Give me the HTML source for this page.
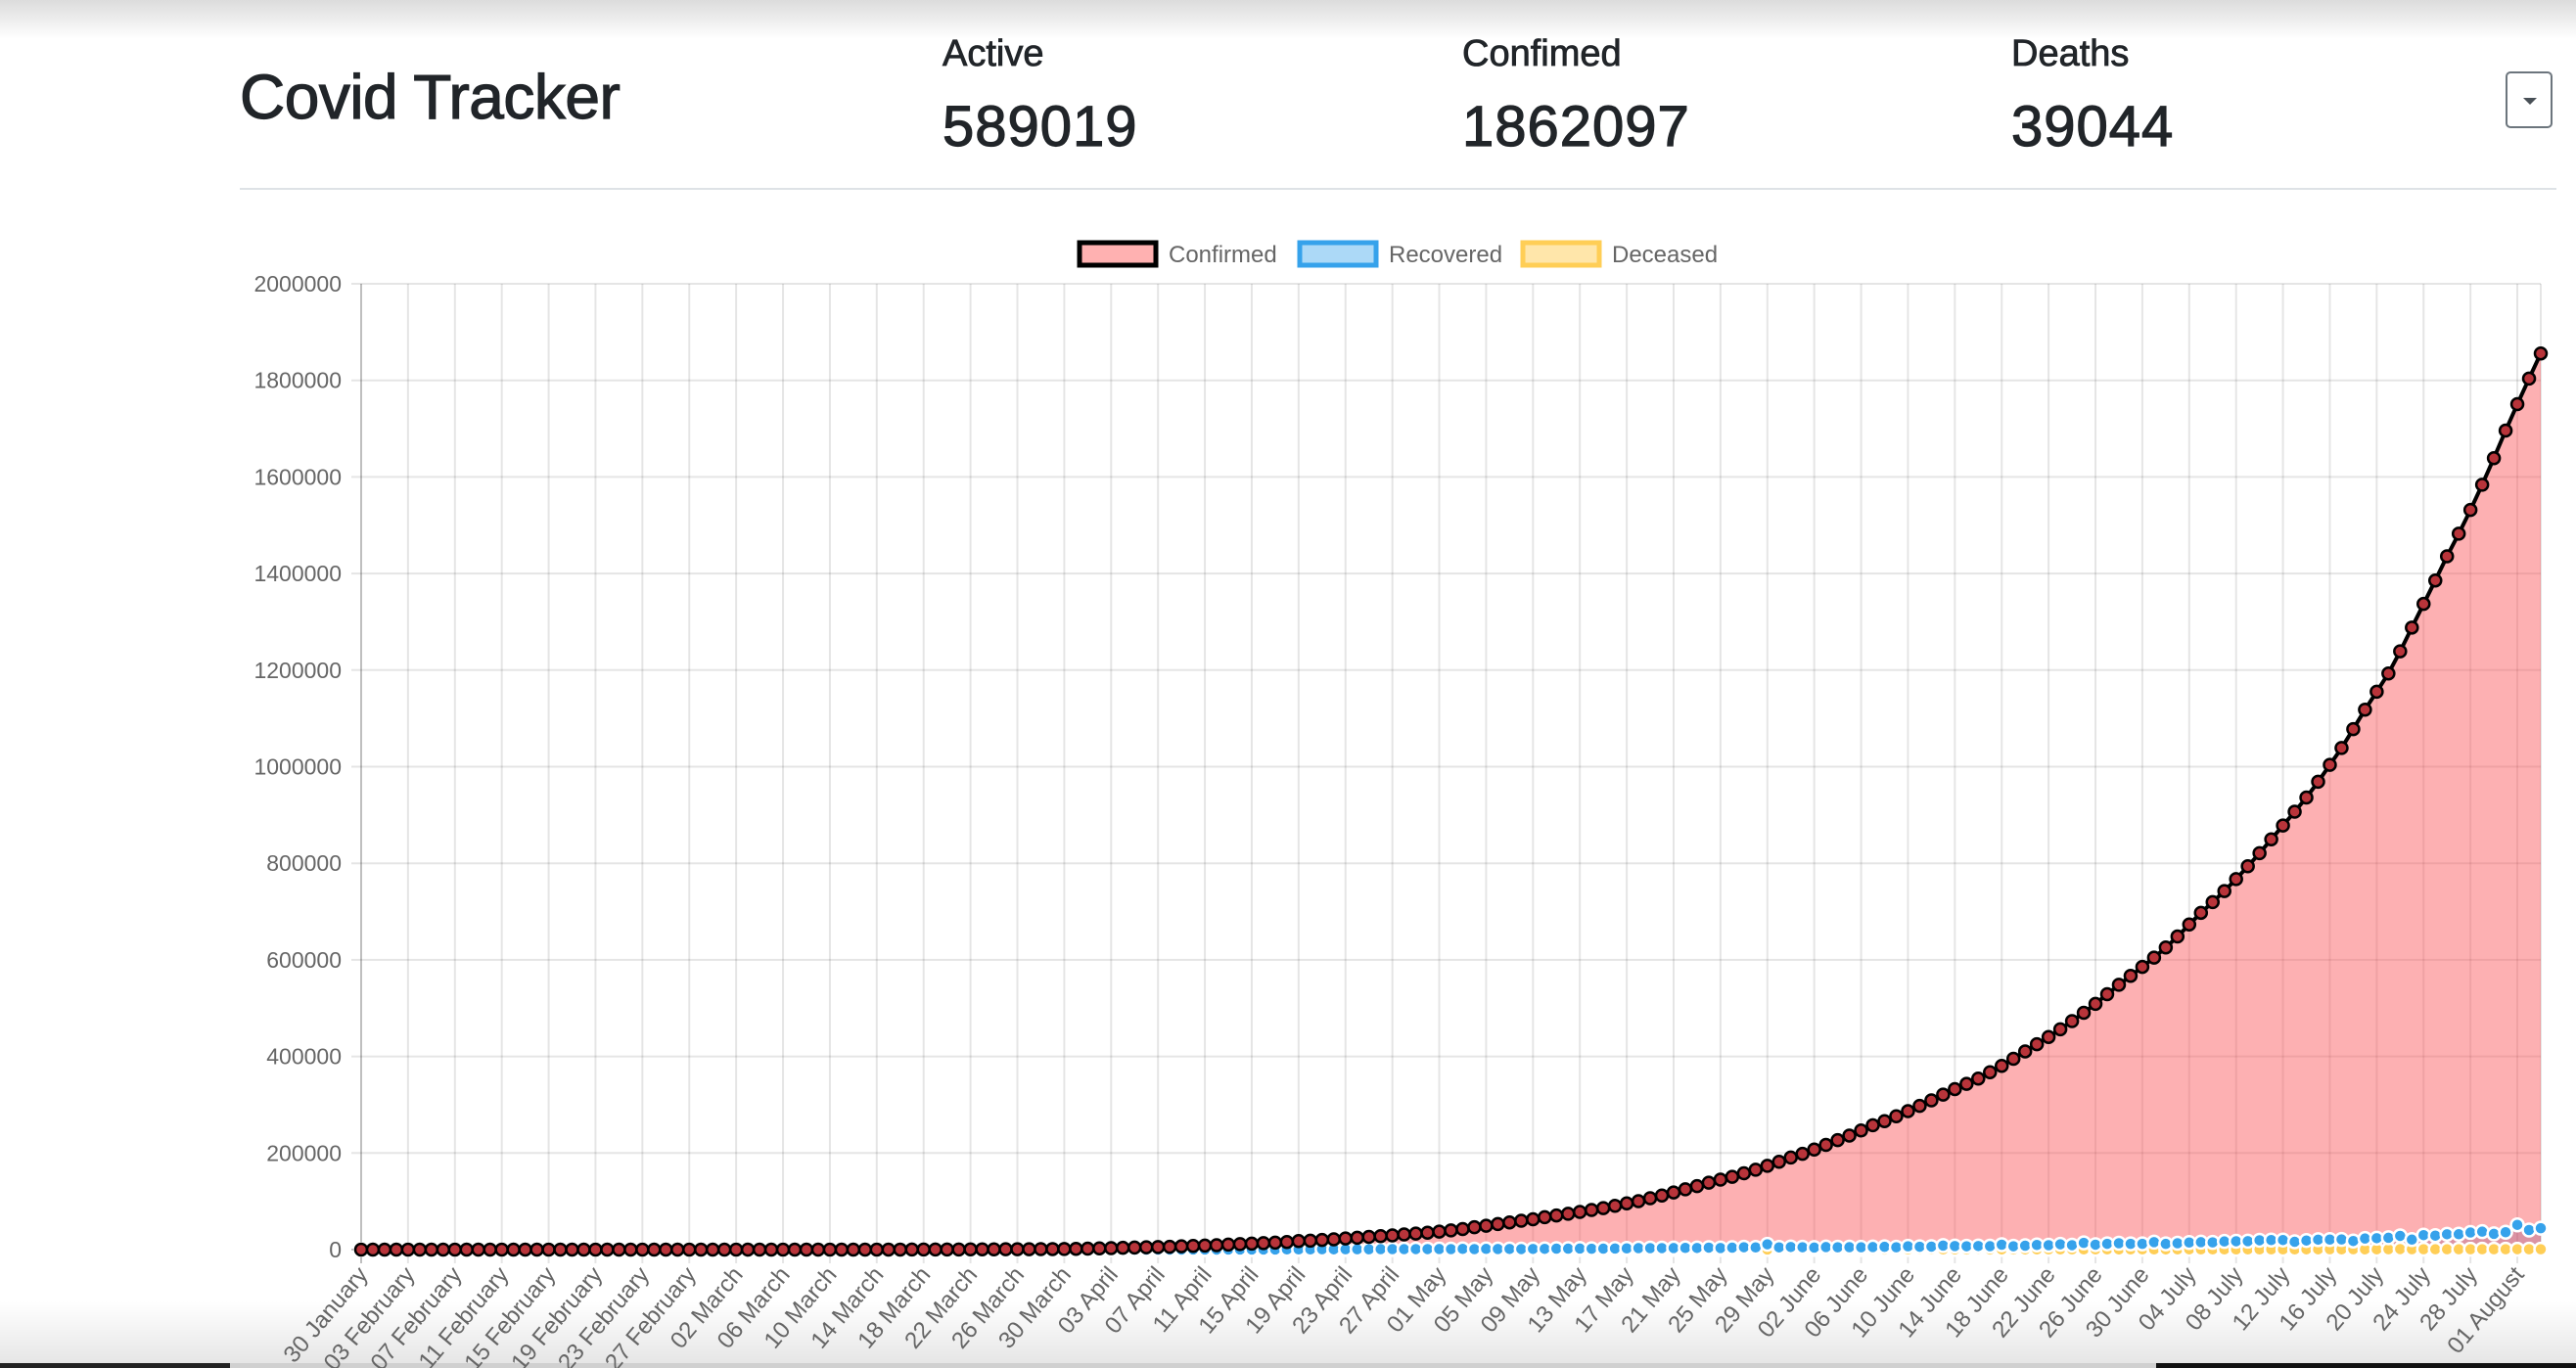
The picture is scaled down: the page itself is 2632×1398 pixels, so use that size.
<!DOCTYPE html>
<html><head><meta charset="utf-8">
<style>
html,body{margin:0;padding:0;background:#fff;width:2632px;height:1398px;overflow:hidden;font-family:"Liberation Sans",sans-serif;color:#212529;position:relative}
.topshade{position:absolute;left:0;top:0;width:2632px;height:40px;background:linear-gradient(#dcdcdc,#fff)}
.botshade{position:absolute;left:0;top:1330px;width:2632px;height:68px;background:linear-gradient(#fff,#e4e4e4)}
.botline{position:absolute;top:1393px;height:5px}
.title{position:absolute;left:245px;top:62px;font-size:64px;font-weight:500;letter-spacing:-0.5px;-webkit-text-stroke:1.2px #212529}
.lbl{position:absolute;top:34px;font-size:38px;-webkit-text-stroke:0.8px #212529}
.num{position:absolute;top:96px;font-size:58px;-webkit-text-stroke:1.2px #212529;letter-spacing:1px}
.dd{position:absolute;left:2560px;top:73px;width:48px;height:58px;border:2px solid #6c757d;border-radius:5px;box-sizing:border-box}
.dd:after{content:"";position:absolute;left:16px;top:25px;border-left:7px solid transparent;border-right:7px solid transparent;border-top:7px solid #495057}
.hr{position:absolute;left:245px;top:192px;width:2367px;height:2px;background:#dee2e6}
svg{position:absolute;left:0;top:0}
</style></head><body>
<div class="topshade"></div>
<div class="botshade"></div>
<div class="botline" style="left:0;width:235px;background:#222"></div>
<div class="botline" style="left:235px;width:1968px;background:#d0d0d0"></div>
<div class="botline" style="left:2203px;width:429px;background:#111"></div>
<div class="title">Covid Tracker</div>
<div class="lbl" style="left:963px">Active</div>
<div class="num" style="left:963px">589019</div>
<div class="lbl" style="left:1494px">Confimed</div>
<div class="num" style="left:1494px">1862097</div>
<div class="lbl" style="left:2055px">Deaths</div>
<div class="num" style="left:2055px">39044</div>
<div class="dd"></div>
<div class="hr"></div>
<svg id="chart" width="2632" height="1398"></svg>
<script>
const yTicks=[0,200000,400000,600000,800000,1000000,1200000,1400000,1600000,1800000,2000000];
const months=["January","February","March","April","May","June","July","August"];
const startMonth=[0,30];
const confirmed=[1,1,1,2,3,3,3,3,3,3,3,3,3,3,3,3,3,3,3,3,3,3,3,3,3,3,3,3,3,3,3,3,
5,6,28,30,31,34,39,48,63,71,81,91,102,112,126,146,171,198,256,334,403,497,571,657,730,883,1019,1139,1326,1635,
2059,2545,3105,3684,4293,4778,5351,5916,6725,7598,8446,9205,10453,11487,12322,13430,14352,15722,17615,18539,20080,21370,23077,24530,26283,27890,29451,31324,33062,34863,
37257,39699,42505,46437,49400,53005,56351,59695,62808,67161,70768,74292,78055,81997,85784,90648,95698,100328,106475,112028,118226,124794,131423,138536,144950,150793,158086,165386,173491,181827,190609,
198370,207191,216824,226713,236184,246622,257486,265928,276146,286605,297535,308993,320922,332424,343091,354065,367264,380532,395048,410451,425282,440215,456183,473105,490401,508953,528859,548318,566840,585481,
604641,625544,648315,673165,697413,719665,742417,767296,793802,820916,849553,878254,906752,936181,968876,1003832,1038716,1077781,1118043,1155191,1192915,1238798,1288108,1337024,1385635,1435616,1482503,1531669,1583792,1638870,1695988,
1750723,1803695,1855745];
const recovered=[0,0,0,0,0,0,0,0,0,0,0,0,0,0,0,0,3,0,0,0,0,0,0,0,0,0,0,0,0,0,0,0,
0,0,0,0,0,0,0,1,0,0,6,0,0,3,1,1,1,0,3,1,4,2,13,5,6,19,26,16,0,49,
18,46,56,42,74,51,101,77,88,136,182,103,198,228,168,285,264,397,455,491,726,586,709,637,714,890,1007,892,1074,1134,
1180,1057,1500,1020,1456,1273,1329,1115,1326,1606,2000,1930,2228,1753,1930,2234,2538,3025,3080,3115,3234,3500,3414,4128,3276,3936,4928,4550,11000,4610,5400,
4900,4190,5200,4800,5000,4700,5220,5760,4780,6800,5900,6150,8400,7390,6920,7420,7000,10100,6900,8000,9650,9120,10990,9230,13940,10240,12000,13150,11880,11880,
15440,11840,13170,14710,15350,14900,16880,17300,17500,19360,19730,19870,16100,18850,20570,20780,20990,17790,22940,23670,24490,28470,20700,30000,28950,31750,31850,35340,37130,32550,36000,
51250,40570,44300];
const deceased=[0,0,0,0,0,0,0,0,0,0,0,0,0,0,0,0,0,0,0,0,0,0,0,0,0,0,0,0,0,0,0,0,
0,0,0,0,0,0,0,0,1,1,0,0,0,0,1,0,1,1,0,1,1,2,2,0,0,4,4,5,3,13,
5,12,16,12,22,26,35,29,41,39,33,35,51,31,39,40,38,34,40,36,50,41,50,56,58,53,62,51,73,71,
77,72,112,195,128,89,97,99,117,111,97,122,134,100,103,119,157,154,134,140,148,137,148,147,154,170,194,175,265,193,230,
230,204,260,273,294,287,297,266,246,357,396,386,396,311,325,2003,334,336,375,306,445,465,418,384,412,381,410,380,506,418,
434,379,442,613,421,465,482,487,475,519,551,500,543,582,606,687,543,671,613,587,681,1129,739,779,705,708,654,779,775,768,779,
854,771,806];
const monthLens=[31,29,31,30,31,30,31,31];

const NS="http://www.w3.org/2000/svg";
const svg=document.getElementById('chart');
const L=369,R=2596,T=290,B=1277,YMAX=2000000;
const n=confirmed.length;
function xs(i){return L+(R-L)*i/(n-1);}
function ys(v){return B-(B-T)*v/YMAX;}
function mk(tag,attrs,parent){const e=document.createElementNS(NS,tag);for(const k in attrs)e.setAttribute(k,attrs[k]);(parent||svg).appendChild(e);return e;}
function dateLabel(i){let m=startMonth[0],d=startMonth[1]+i;while(d>monthLens[m]){d-=monthLens[m];m++;}return (d<10?'0':'')+d+' '+months[m];}

yTicks.forEach(v=>{
  const g=mk('line',{x1:L-10,x2:R,y1:ys(v),y2:ys(v),stroke:v===0?'rgba(0,0,0,0.25)':'rgba(0,0,0,0.1)','stroke-width':2});
  
  
  const t=mk('text',{x:L-20,y:ys(v)+8,'text-anchor':'end','font-size':23,fill:'#666','font-family':'Liberation Sans, sans-serif'});
  t.textContent=v;
  
  
});
for(let i=0;i<n;i+=4){
  const g=mk('line',{x1:xs(i),x2:xs(i),y1:T,y2:B+14,stroke:i===0?'rgba(0,0,0,0.25)':'rgba(0,0,0,0.1)','stroke-width':2});
  
  
  const t=mk('text',{transform:`translate(${xs(i)+8},${B+26}) rotate(-50)`,'text-anchor':'end','font-size':24,fill:'#666','font-family':'Liberation Sans, sans-serif'});
  t.textContent=dateLabel(i);
  
  
}
mk('line',{x1:R,x2:R,y1:T,y2:B,stroke:'rgba(0,0,0,0.1)','stroke-width':2});

function series(data,fill,line,lw,ptFill,ptStroke,r,name){
  let d='M'+xs(0)+','+B;
  data.forEach((v,i)=>{d+=' L'+xs(i).toFixed(1)+','+ys(v).toFixed(1);});
  d+=' L'+xs(n-1)+','+B+' Z';
  const a=mk('path',{d:d,fill:fill,stroke:'none'});
  
  
  let p='';
  data.forEach((v,i)=>{p+=(i?' L':'M')+xs(i).toFixed(1)+','+ys(v).toFixed(1);});
  const l=mk('path',{d:p,fill:'none',stroke:line,'stroke-width':lw});
  
  
  return ()=>{data.forEach((v,i)=>{
    const c=mk('circle',{cx:xs(i),cy:ys(v),r:r,fill:ptFill,stroke:ptStroke,'stroke-width':2.5});
    
    
  });};
}
const pc=series(confirmed,'rgba(251,80,85,0.45)','#000',4,'#b8343a','#000',6,'confirmed');
const pr=series(recovered,'rgba(120,60,120,0.25)','#36a2eb',3,'#36a2eb','#fff',6.5,'recovered');
const pd=series(deceased,'rgba(255,206,86,0.2)','#ffce56',3,'#ffce56','#fff',6.5,'deceased');
pd();pr();pc();

const leg=[["Confirmed",1100,'#ffb1b1','#000'],["Recovered",1325,'#acd9f7','#36a2eb'],["Deceased",1553,'#ffe6aa','#ffce56']];
leg.forEach(([t,x,f,s])=>{
  const b=mk('rect',{x:x+3,y:248,width:78,height:23,fill:f,stroke:s,'stroke-width':5});
  
  
  const tx=mk('text',{x:x+94,y:268,'font-size':24,fill:'#666','font-family':'Liberation Sans, sans-serif'});
  tx.textContent=t;
  
  
});
</script>
</body></html>
